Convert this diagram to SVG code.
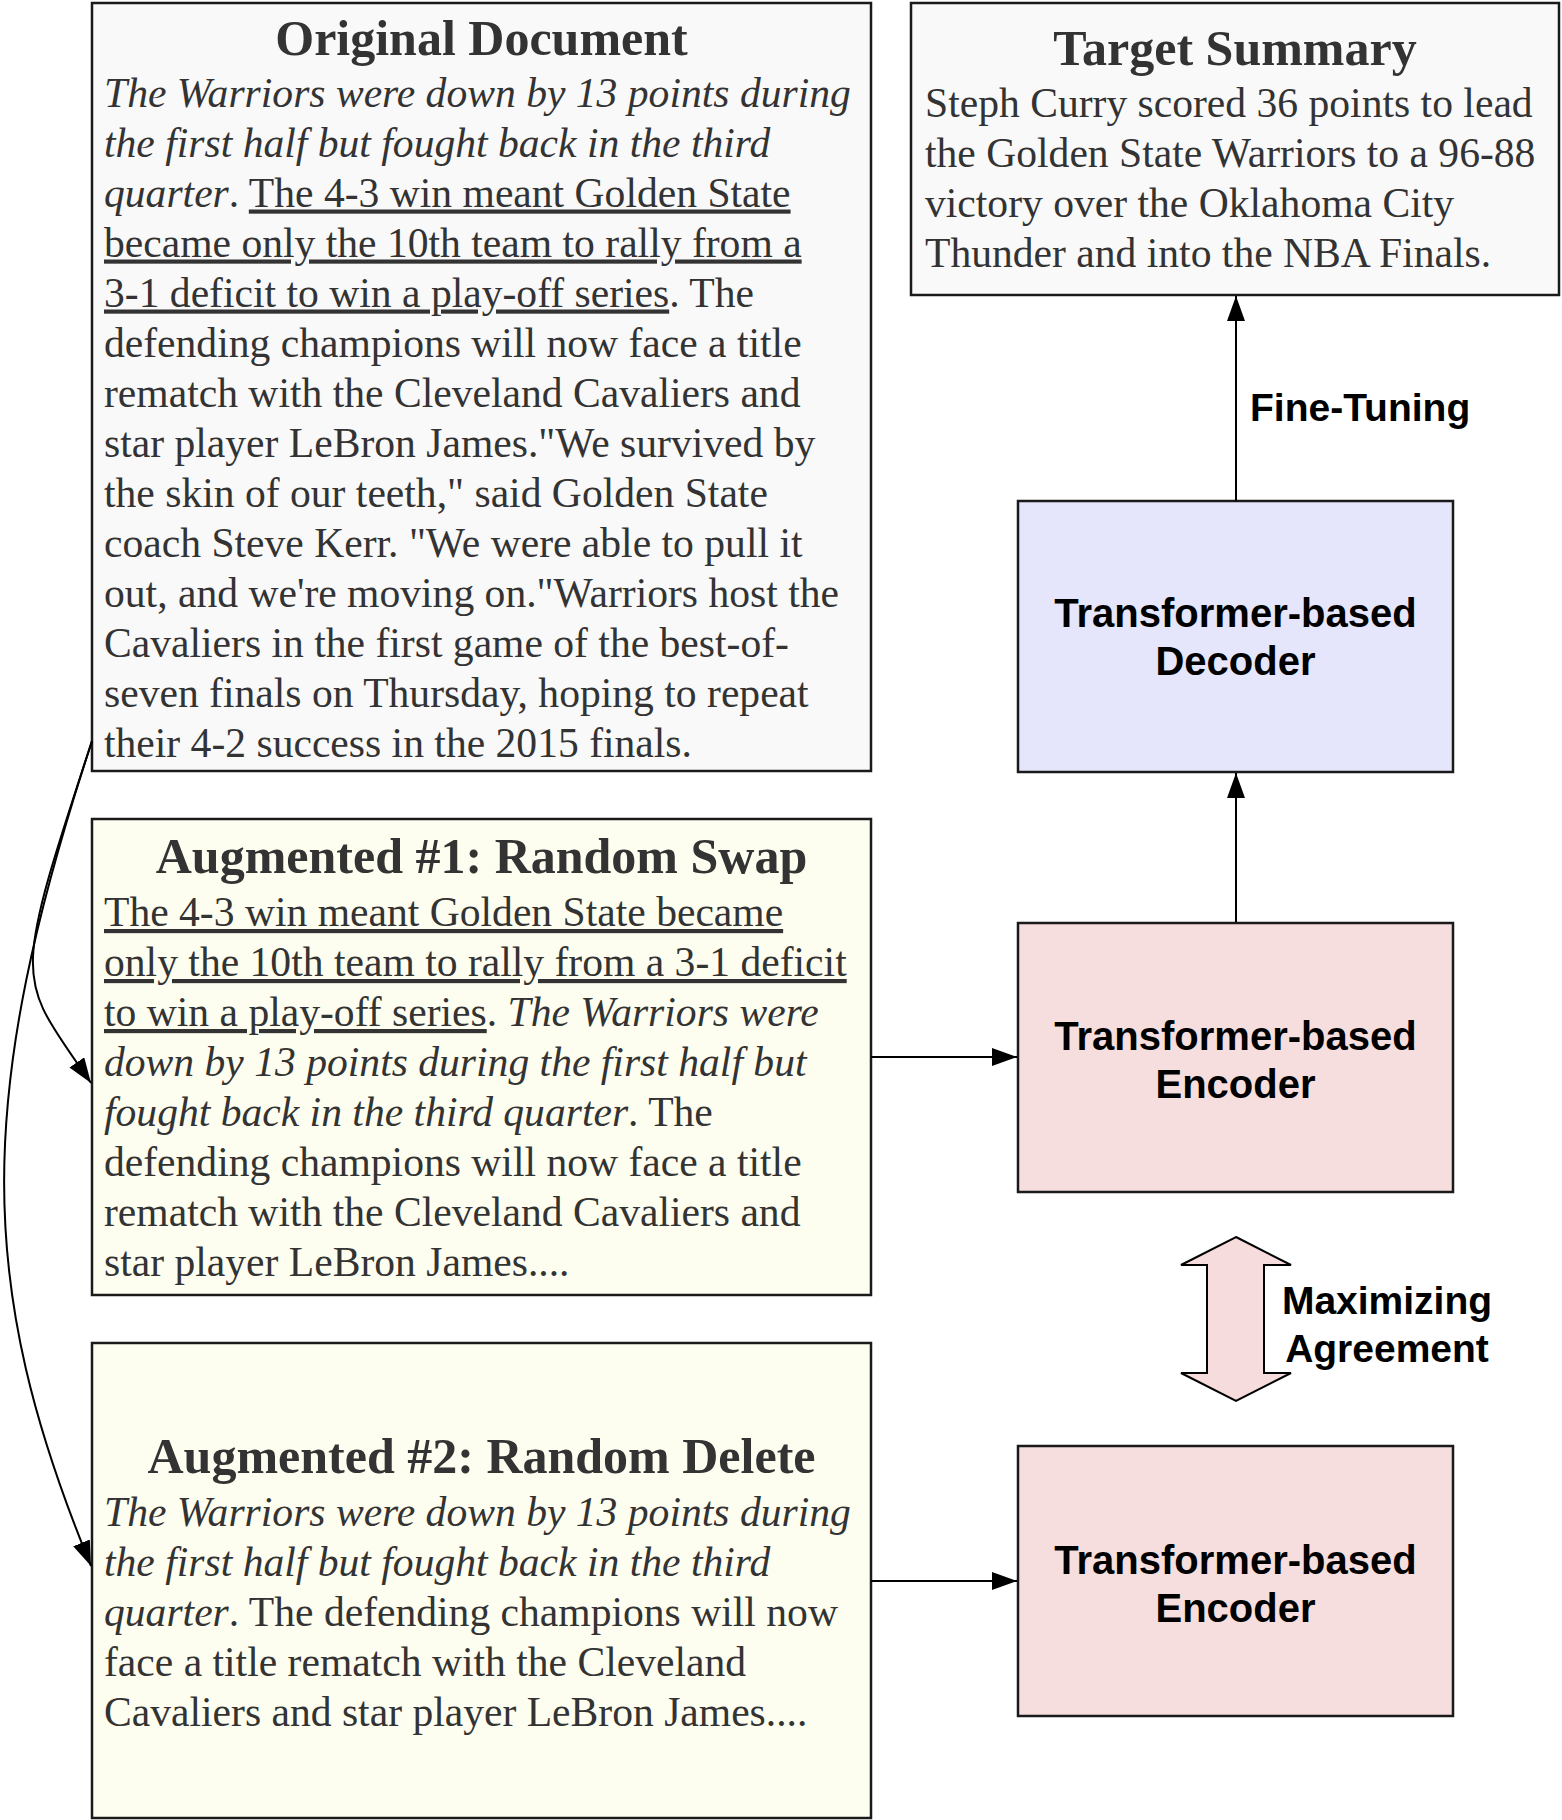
<svg xmlns="http://www.w3.org/2000/svg" width="1562" height="1820" viewBox="0 0 1562 1820">
<style>
.box{stroke:#1a1a1a;stroke-width:2.5}
.doc{fill:#f9f9f9}
.aug{fill:#fefef0}
.dec{fill:#e5e5fb}
.enc{fill:#f6dede}
.ttl{font-family:"Liberation Serif","Times New Roman",serif;font-weight:bold;font-size:50px;fill:#333;text-anchor:middle}
.body{font-family:"Liberation Serif","Times New Roman",serif;font-size:41.6px;fill:#333}
.i{font-style:italic}
.u{text-decoration:underline}
.lbl{font-family:"Liberation Sans",Arial,Helvetica,sans-serif;font-weight:bold;font-size:40px;fill:#000;text-anchor:middle}
.elbl{font-family:"Liberation Sans",Arial,Helvetica,sans-serif;font-weight:bold;font-size:39px;fill:#000}
.con{fill:none;stroke:#000;stroke-width:2}
</style>
<defs>
<marker id="arr" markerUnits="userSpaceOnUse" markerWidth="25" markerHeight="18" refX="25" refY="9" orient="auto">
<path d="M0,0 L25,9 L0,18 z" fill="#000"/>
</marker>
</defs>

<g id="original-document">
<rect class="box doc" x="92" y="3" width="779" height="768"/>
<text class="ttl" x="481.5" y="55">Original Document</text>
<text class="body">
<tspan x="104" y="106.5" class="i">The Warriors were down by 13 points during</tspan>
<tspan x="104" y="156.5" class="i">the first half but fought back in the third</tspan>
<tspan x="104" y="206.5"><tspan class="i">quarter</tspan>. <tspan class="u">The 4-3 win meant Golden State</tspan></tspan>
<tspan x="104" y="256.5" class="u">became only the 10th team to rally from a</tspan>
<tspan x="104" y="306.5"><tspan class="u">3-1 deficit to win a play-off series</tspan>. The</tspan>
<tspan x="104" y="356.5">defending champions will now face a title</tspan>
<tspan x="104" y="406.5">rematch with the Cleveland Cavaliers and</tspan>
<tspan x="104" y="456.5">star player LeBron James."We survived by</tspan>
<tspan x="104" y="506.5">the skin of our teeth," said Golden State</tspan>
<tspan x="104" y="556.5">coach Steve Kerr. "We were able to pull it</tspan>
<tspan x="104" y="606.5">out, and we're moving on."Warriors host the</tspan>
<tspan x="104" y="656.5">Cavaliers in the first game of the best-of-</tspan>
<tspan x="104" y="706.5">seven finals on Thursday, hoping to repeat</tspan>
<tspan x="104" y="756.5">their 4-2 success in the 2015 finals.</tspan>
</text>
</g>

<g id="augmented-1">
<rect class="box aug" x="92" y="819" width="779" height="476"/>
<text class="ttl" x="481.5" y="873">Augmented #1: Random Swap</text>
<text class="body">
<tspan x="104" y="926" class="u">The 4-3 win meant Golden State became</tspan>
<tspan x="104" y="976" class="u">only the 10th team to rally from a 3-1 deficit</tspan>
<tspan x="104" y="1026"><tspan class="u">to win a play-off series</tspan>. <tspan class="i">The Warriors were</tspan></tspan>
<tspan x="104" y="1076" class="i">down by 13 points during the first half but</tspan>
<tspan x="104" y="1126"><tspan class="i">fought back in the third quarter</tspan>. The</tspan>
<tspan x="104" y="1176">defending champions will now face a title</tspan>
<tspan x="104" y="1226">rematch with the Cleveland Cavaliers and</tspan>
<tspan x="104" y="1276">star player LeBron James....</tspan>
</text>
</g>

<g id="augmented-2">
<rect class="box aug" x="92" y="1343" width="779" height="475"/>
<text class="ttl" x="481.5" y="1473">Augmented #2: Random Delete</text>
<text class="body">
<tspan x="104" y="1526" class="i">The Warriors were down by 13 points during</tspan>
<tspan x="104" y="1576" class="i">the first half but fought back in the third</tspan>
<tspan x="104" y="1626"><tspan class="i">quarter</tspan>. The defending champions will now</tspan>
<tspan x="104" y="1676">face a title rematch with the Cleveland</tspan>
<tspan x="104" y="1726">Cavaliers and star player LeBron James....</tspan>
</text>
</g>

<g id="target-summary">
<rect class="box doc" x="911" y="3" width="648" height="292"/>
<text class="ttl" x="1235" y="65">Target Summary</text>
<text class="body">
<tspan x="925" y="117">Steph Curry scored 36 points to lead</tspan>
<tspan x="925" y="167">the Golden State Warriors to a 96-88</tspan>
<tspan x="925" y="217">victory over the Oklahoma City</tspan>
<tspan x="925" y="267">Thunder and into the NBA Finals.</tspan>
</text>
</g>

<g id="decoder">
<rect class="box dec" x="1018" y="501" width="435" height="271"/>
<text class="lbl" x="1235.5" y="627">Transformer-based</text>
<text class="lbl" x="1235.5" y="675">Decoder</text>
</g>

<g id="encoder-1">
<rect class="box enc" x="1018" y="923" width="435" height="269"/>
<text class="lbl" x="1235.5" y="1050">Transformer-based</text>
<text class="lbl" x="1235.5" y="1098">Encoder</text>
</g>

<g id="encoder-2">
<rect class="box enc" x="1018" y="1446" width="435" height="270"/>
<text class="lbl" x="1235.5" y="1574">Transformer-based</text>
<text class="lbl" x="1235.5" y="1622">Encoder</text>
</g>

<g id="connectors">
<path class="con" d="M92,741 C10,990 16.7,975 91,1083" marker-end="url(#arr)"/>
<path class="con" d="M92,741 C-25,1097 -25,1284 91,1566" marker-end="url(#arr)"/>
<line class="con" x1="871" y1="1057" x2="1017" y2="1057" marker-end="url(#arr)"/>
<line class="con" x1="871" y1="1581" x2="1017" y2="1581" marker-end="url(#arr)"/>
<line class="con" x1="1236" y1="922" x2="1236" y2="773" marker-end="url(#arr)"/>
<line class="con" x1="1236" y1="501" x2="1236" y2="296" marker-end="url(#arr)"/>
<text class="elbl" x="1250" y="421">Fine-Tuning</text>
<polygon points="1236,1237 1291,1265 1264,1265 1264,1373 1291,1373 1236,1401 1181,1373 1207,1373 1207,1265 1181,1265" fill="#f6dcdc" stroke="#000" stroke-width="2"/>
<text class="elbl" x="1387" y="1314" text-anchor="middle">Maximizing</text>
<text class="elbl" x="1387" y="1362" text-anchor="middle">Agreement</text>
</g>
</svg>
